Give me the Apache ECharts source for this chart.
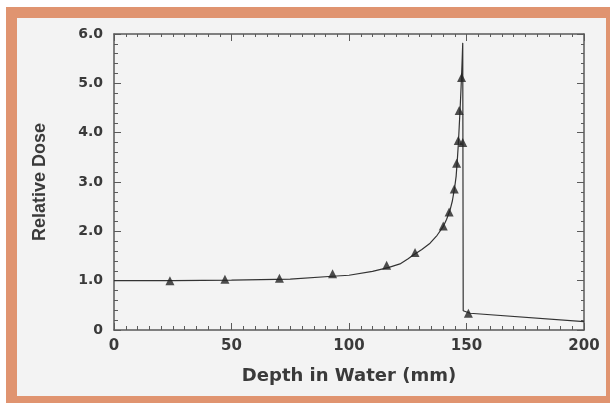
<!DOCTYPE html>
<html>
<head>
<meta charset="utf-8">
<script src="https://cdn.jsdelivr.net/npm/echarts@6/dist/echarts.min.js"></script>
<style>
  html, body { margin: 0; padding: 0; background: #fff; }
  #frame { position: absolute; left: 6px; top: 7px; width: 604px; height: 396px; background: #e09470; }
  #inner { position: absolute; left: 17px; top: 18px; width: 589px; height: 378px; background: #f3f3f3; }
  #chart { position: absolute; left: 0; top: 0; width: 610px; height: 403px; }
</style>
</head>
<body>
<div id="frame"></div>
<div id="inner"></div>
<div id="chart"></div>
<script>
// depth (mm) / relative dose
var curve = [
  [0, 1.0], [10, 1.0], [25, 1.0], [50, 1.01], [75, 1.03], [93, 1.09],
  [100, 1.11], [110, 1.19], [117, 1.27], [121.7, 1.34], [125, 1.44],
  [127.4, 1.52], [131, 1.63], [134.5, 1.76], [137.5, 1.92], [140, 2.09],
  [141.5, 2.24], [143, 2.43], [144, 2.62], [145, 2.9], [145.6, 3.12],
  [146.1, 3.45], [146.5, 3.75], [146.9, 4.12], [147.3, 4.5], [147.7, 4.93],
  [148.1, 5.4], [148.4, 5.82], [148.6, 0.39], [151.5, 0.34], [200, 0.17]
];
var measured = [
  [23.8, 1.0], [47.2, 1.03], [70.4, 1.05], [93.0, 1.14], [116.0, 1.31],
  [128.1, 1.57], [140.1, 2.11], [142.6, 2.39], [144.8, 2.86], [145.8, 3.38],
  [146.5, 3.84], [148.4, 3.80], [146.9, 4.45], [147.9, 5.12], [150.8, 0.34]
];

var chartDom = document.getElementById('chart');
var myChart = echarts.init(chartDom);
var option;

var axisColor = '#5a5a5a';
var textColor = '#3a3a3a';

function boxAxis(extra) {
  var a = {
    type: 'value',
    axisLine: { show: true, onZero: false, lineStyle: { color: axisColor, width: 1.5 } },
    axisTick: { show: true, inside: true, length: 7, lineStyle: { color: axisColor, width: 1 } },
    minorTick: { show: true, length: 4, lineStyle: { color: axisColor, width: 1 } },
    splitLine: { show: false },
    axisLabel: { show: false }
  };
  for (var k in extra) a[k] = extra[k];
  return a;
}

option = {
  animation: false,
  grid: { left: 114, right: 26, top: 34, bottom: 73 },
  xAxis: [
    boxAxis({
      position: 'bottom', min: 0, max: 200, interval: 50,
      minorTick: { show: true, splitNumber: 10, length: 4, lineStyle: { color: axisColor, width: 1 } },
      axisLabel: {
        show: true, margin: 9, color: textColor,
        fontFamily: 'DejaVu Sans', fontWeight: 'bold', fontSize: 15
      },
      name: 'Depth in Water (mm)', nameLocation: 'middle', nameGap: 37,
      nameTextStyle: { color: textColor, fontFamily: 'DejaVu Sans', fontWeight: 'bold', fontSize: 18 }
    }),
    boxAxis({
      position: 'top', min: 0, max: 200, interval: 50,
      minorTick: { show: true, splitNumber: 10, length: 3, lineStyle: { color: axisColor, width: 1 } }
    })
  ],
  yAxis: [
    boxAxis({
      position: 'left', min: 0, max: 6, interval: 1,
      minorTick: { show: true, splitNumber: 5, length: 4, lineStyle: { color: axisColor, width: 1 } },
      axisLabel: {
        show: true, margin: 11, color: textColor,
        fontFamily: 'DejaVu Sans', fontWeight: 'bold', fontSize: 14,
        formatter: function (v) { return v === 0 ? '0' : v.toFixed(1); }
      },
      name: 'Relative Dose', nameLocation: 'middle', nameGap: 65, nameRotate: 90,
      nameTextStyle: { color: textColor, fontFamily: 'Liberation Sans', fontWeight: 'bold', fontSize: 18 }
    }),
    boxAxis({
      position: 'right', min: 0, max: 6, interval: 1,
      minorTick: { show: true, splitNumber: 5, length: 3, lineStyle: { color: axisColor, width: 1 } }
    })
  ],
  series: [
    {
      type: 'line',
      data: curve,
      showSymbol: false,
      symbol: 'none',
      lineStyle: { color: '#333', width: 1.2 },
      z: 2
    },
    {
      type: 'scatter',
      data: measured,
      symbol: 'triangle',
      symbolSize: 9,
      itemStyle: { color: '#222' },
      z: 3
    }
  ]
};

option && myChart.setOption(option);
</script>
</body>
</html>
